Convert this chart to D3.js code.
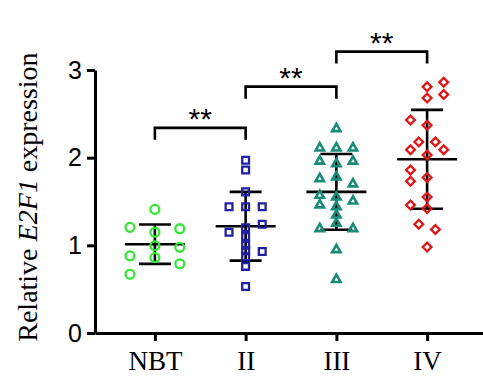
<!DOCTYPE html>
<html>
<head>
<meta charset="utf-8">
<script src="https://cdn.jsdelivr.net/npm/d3@7"></script>
<style>
  body { margin: 0; background: #fff; }
  svg { display: block; }
</style>
</head>
<body>
<script>
// categories
var groups = ["NBT", "II", "III", "IV"];

// relative expression values per group
var nbtValues = [1.41, 1.205, 1.19, 1.15, 0.995, 0.977, 0.88, 0.86, 0.79, 0.67];
var stageIIValues = [1.97, 1.86, 1.61, 1.44, 1.44, 1.44, 1.24, 1.20, 1.15, 1.10, 1.00, 0.94, 0.93, 0.87, 0.76, 0.53];
var stageIIIValues = [2.33, 2.11, 2.11, 2.11, 1.96, 1.93, 1.96, 1.76, 1.78, 1.70, 1.57, 1.55, 1.505, 1.46, 1.44, 1.345, 1.25, 1.19, 1.19, 0.95, 0.61];
var stageIVValues = [2.86, 2.81, 2.72, 2.68, 2.43, 2.37, 2.18, 2.18, 2.09, 2.09, 2.03, 1.86, 1.775, 1.73, 1.55, 1.46, 1.42, 1.24, 1.18, 0.98];

// scatter lane of each point (-3..3), the way the points are spread in the figure
var nbtLanes = [0, -3, 3, 0, 0, 3, -3, 0, 3, -3];
var stageIILanes = [0, 0, 0, -2, 0, 2, 2, 0, -2, 0, 0, 0, 2, 0, 0, 0];
var stageIIILanes = [0, -2, 0, 2, -2, 0, 2, -2, 0, 2, -2, 0, 2, -2, 0, 0, 0, -2, 2, 0, 0];
var stageIVLanes = [2, 0, 2, 0, -2, 0, -1, 1, -2, 2, 0, -2, 0, -2, 0, -2, 0, -1, 1, 0];

// y axis ticks
var yTicks = [0, 1, 2, 3];

// significance brackets: [from, to, height in y units, label]
var comparisons = [
    ["NBT", "II", 2.34, "**"],
    ["II", "III", 2.81, "**"],
    ["III", "IV", 3.21, "**"]
];

var values = [nbtValues, stageIIValues, stageIIIValues, stageIVValues];
var lanes = [nbtLanes, stageIILanes, stageIIILanes, stageIVLanes];
var colors = ["#33e633", "#2020a0", "#178a78", "#e01515"];
var shapes = [d3.symbolCircle, d3.symbolSquare, d3.symbolTriangle, d3.symbolSquare];
var sizes = [62, 46, 30, 38];
var rotations = [0, 0, 0, 45];

var width = 483, height = 381;
var plotLeft = 95, plotBottom = 333, plotTop = 70;

var svg = d3.select("body").append("svg")
    .attr("width", width)
    .attr("height", height);

// scales
var x = d3.scalePoint().domain(groups).range([plotLeft, 487]).padding(0.66);
var y = d3.scaleLinear().domain([0, 3]).range([plotBottom, plotTop]);
var lane = d3.scaleLinear().domain([-1, 1]).range([-8.3, 8.3]);

// mean and SD lines
groups.forEach(function(g, i) {
    var m = d3.mean(values[i]);
    var sd = d3.deviation(values[i]);
    var cx = x(g);
    var bars = svg.append("g")
        .attr("stroke", "#000")
        .attr("stroke-width", 2.6);
    bars.append("line")
        .attr("x1", cx).attr("x2", cx)
        .attr("y1", y(m + sd)).attr("y2", y(m - sd));
    bars.append("line")
        .attr("x1", cx - 30).attr("x2", cx + 30)
        .attr("y1", y(m)).attr("y2", y(m));
    [m + sd, m - sd].forEach(function(v) {
        bars.append("line")
            .attr("x1", cx - 16).attr("x2", cx + 16)
            .attr("y1", y(v)).attr("y2", y(v));
    });
});

// points
groups.forEach(function(g, i) {
    var sym = d3.symbol().type(shapes[i]).size(sizes[i]);
    svg.append("g").selectAll("path")
        .data(values[i])
        .enter().append("path")
        .attr("d", sym)
        .attr("transform", function(d, j) {
            return "translate(" + (x(g) + lane(lanes[i][j])) + "," + y(d) + ") rotate(" + rotations[i] + ")";
        })
        .attr("fill", "none")
        .attr("stroke", colors[i])
        .attr("stroke-width", i == 2 ? 2.6 : 2.3);
});

// y axis
var yAxis = svg.append("g")
    .attr("transform", "translate(" + plotLeft + ",0)")
    .call(d3.axisLeft(y).tickValues(yTicks).tickFormat(d3.format("d")).tickSize(8).tickSizeOuter(0).tickPadding(5));
yAxis.select(".domain").attr("stroke-width", 3);
yAxis.selectAll(".tick line").attr("stroke-width", 3);
yAxis.selectAll(".tick text")
    .attr("font-family", "Liberation Sans, Arial, sans-serif")
    .attr("font-size", 25)
    .attr("fill", "#000");

// x axis
var xAxis = svg.append("g")
    .attr("transform", "translate(0," + plotBottom + ")")
    .call(d3.axisBottom(x).tickSize(8).tickSizeOuter(0));
xAxis.select(".domain").attr("stroke-width", 3);
xAxis.selectAll(".tick line").attr("stroke-width", 3);
xAxis.selectAll(".tick text")
    .attr("dy", null)
    .attr("y", 37)
    .attr("font-family", "Liberation Serif, Times New Roman, serif")
    .attr("font-size", 27)
    .attr("fill", "#000");

// y axis title
var title = svg.append("text")
    .attr("transform", "translate(37," + y(1.55) + ") rotate(-90)")
    .attr("text-anchor", "middle")
    .attr("font-family", "Liberation Serif, Times New Roman, serif")
    .attr("font-size", 28)
    .attr("fill", "#000");
title.append("tspan").text("Relative ");
title.append("tspan").attr("font-style", "italic").text("E2F1");
title.append("tspan").text(" expression");

// significance brackets
comparisons.forEach(function(c) {
    var x1 = x(c[0]), x2 = x(c[1]), yy = y(c[2]);
    svg.append("path")
        .attr("d", "M" + x1 + "," + (yy + 12) + "V" + yy + "H" + x2 + "V" + (yy + 12))
        .attr("fill", "none")
        .attr("stroke", "#000")
        .attr("stroke-width", 2.6);
    svg.append("text")
        .attr("x", (x1 + x2) / 2)
        .attr("y", yy + 1)
        .attr("text-anchor", "middle")
        .attr("font-family", "Liberation Sans, Arial, sans-serif")
        .attr("font-size", 30)
        .attr("fill", "#000")
        .text(c[3]);
});
</script>
</body>
</html>
